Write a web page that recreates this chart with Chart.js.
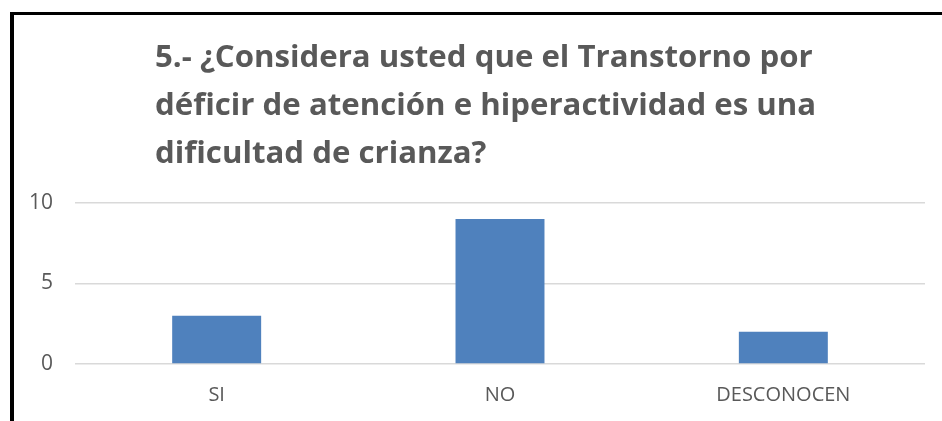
<!DOCTYPE html>
<html>
<head>
<meta charset="utf-8">
<script src="https://cdn.jsdelivr.net/npm/chart.js@4/dist/chart.umd.min.js"></script>
<style>
  html, body { margin: 0; padding: 0; background: #fff; overflow: hidden; }
  body { width: 942px; height: 421px; position: relative; }
  #frame { position: absolute; left: 10px; top: 12px; width: 1000px; height: 500px;
           border-left: 4px solid #000; border-top: 3px solid #000; box-sizing: border-box; }
  #title { position: absolute; left: 155px; top: 32px; font-family: "Open Sans", Lato, sans-serif;
           font-weight: bold; font-size: 30px; line-height: 48px; color: #595959; white-space: nowrap;
           transform: scaleX(1.04); transform-origin: left top; }
  #wrap { position: absolute; left: 0; top: 0; width: 942px; height: 421px; }
</style>
</head>
<body>
<div id="frame"></div>
<div id="wrap"><canvas id="c" width="942" height="421"></canvas></div>
<div id="title">5.- ¿Considera usted que el Transtorno por<br>déficir de atención e hiperactividad es una<br>dificultad de crianza?</div>
<script>
const categories = ["SI", "NO", "DESCONOCEN"];
const values = [3, 9, 2];
const yTicks = [0, 5, 10];

new Chart(document.getElementById('c'), {
  type: 'bar',
  data: {
    labels: categories,
    datasets: [{
      data: values,
      backgroundColor: '#4f81bd',
      borderWidth: 0,
      barPercentage: 0.314,
      categoryPercentage: 1
    }]
  },
  options: {
    responsive: false,
    animation: false,
    layout: { padding: { left: 0, right: 17, top: 203, bottom: 0 } },
    plugins: { legend: { display: false }, title: { display: false }, tooltip: { enabled: false } },
    scales: {
      x: {
        grid: { display: false, drawTicks: false },
        border: { display: false },
        ticks: { color: '#595959', font: { family: '"Open Sans", Lato, sans-serif', size: 20 }, padding: 19 },
        afterFit: s => { s.height = 57; }
      },
      y: {
        min: 0, max: 10,
        afterBuildTicks: s => { s.ticks = yTicks.map(v => ({ value: v })); },
        grid: { color: '#d9d9d9', lineWidth: 1.5, drawTicks: false },
        border: { display: false },
        ticks: { color: '#595959', font: { family: '"Open Sans", Lato, sans-serif', size: 21 }, padding: 22 },
        afterFit: s => { s.width = 75; }
      }
    }
  }
});
</script>
</body>
</html>
